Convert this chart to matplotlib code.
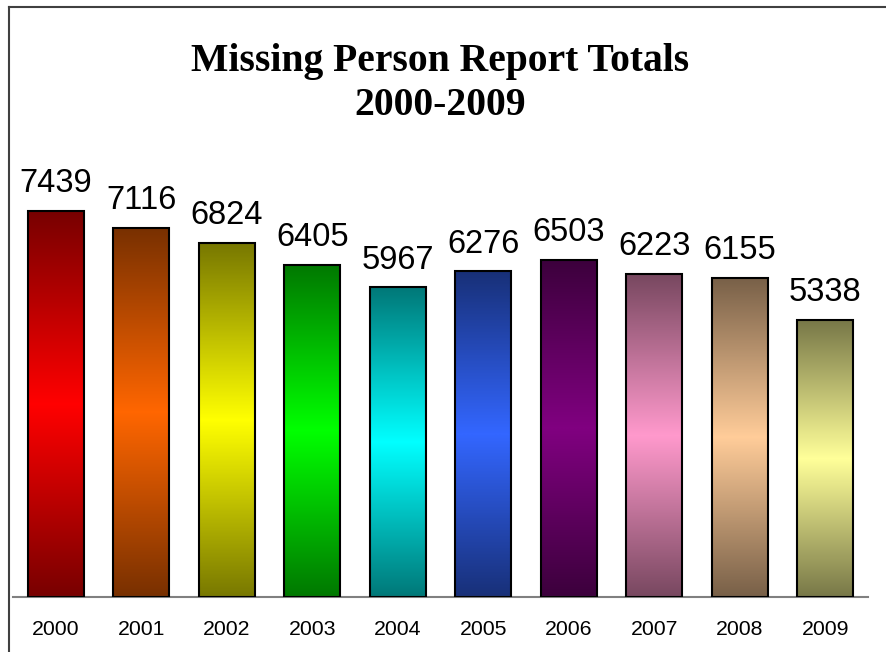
import numpy as np
import matplotlib
matplotlib.use('Agg')
import matplotlib.pyplot as plt
from matplotlib.colors import LinearSegmentedColormap, to_rgb
from matplotlib.lines import Line2D

years = ['2000', '2001', '2002', '2003', '2004', '2005', '2006', '2007', '2008', '2009']
totals = [7439, 7116, 6824, 6405, 5967, 6276, 6503, 6223, 6155, 5338]
bar_colors = ['#FF0000', '#FF6600', '#FFFF00', '#00FF00', '#00FFFF',
              '#3366FF', '#800080', '#FF99CC', '#FFCC99', '#FFFF99']

plt.rcParams['font.family'] = ['Liberation Sans', 'DejaVu Sans']

W, H = 887, 652
fig = plt.figure(figsize=(W / 100, H / 100), dpi=100)
ax = fig.add_axes([13 / W, (H - 597) / H, (868 - 13) / W, (597 - 182) / H])

x = np.arange(len(years))
width = 0.656

# vertical gradient: dark at the ends, full colour in the middle
grad = np.concatenate([np.linspace(0, 1, 128), np.linspace(1, 0, 128)]).reshape(-1, 1)
for xi, val, col in zip(x, totals, bar_colors):
    c = np.array(to_rgb(col))
    cmap = LinearSegmentedColormap.from_list('g', [c * 0.47, c])
    ax.imshow(grad, cmap=cmap, aspect='auto', interpolation='bilinear',
              extent=(xi - width / 2, xi + width / 2, 0, val), zorder=2)

bars = ax.bar(x, totals, width=width, facecolor='none', edgecolor='black',
              linewidth=1.5, zorder=3)

for xi, val in zip(x, totals):
    ax.annotate(str(val), (xi, val), xytext=(0, 13.5), textcoords='offset points',
                ha='center', va='baseline', fontsize=23.5)

ax.set_xlim(-0.5, len(years) - 0.5)
ax.set_ylim(0, 8000)
ax.set_xticks(x)
ax.set_xticklabels(years, fontsize=15.3)
ax.tick_params(axis='x', length=0, pad=16.5)
ax.set_yticks([])
for s in ['top', 'right', 'left']:
    ax.spines[s].set_visible(False)
ax.spines['bottom'].set_color('#808080')
ax.spines['bottom'].set_linewidth(1.5)

title_kw = dict(ha='center', va='baseline', fontsize=28.5, fontweight='bold',
                family='Liberation Serif')
fig.text(440.5 / W, 1 - 70.7 / H, 'Missing Person Report Totals', **title_kw)
fig.text(440.5 / W, 1 - 115 / H, '2000-2009', **title_kw)

# chart frame (left and top edges)
fig.add_artist(Line2D([9.5 / W, 9.5 / W], [0, 1 - 7 / H], color='#404040',
                      linewidth=1.5, transform=fig.transFigure))
fig.add_artist(Line2D([9.5 / W, 1], [1 - 7 / H, 1 - 7 / H], color='#404040',
                      linewidth=1.5, transform=fig.transFigure))

fig.savefig('out.png', dpi=100)
